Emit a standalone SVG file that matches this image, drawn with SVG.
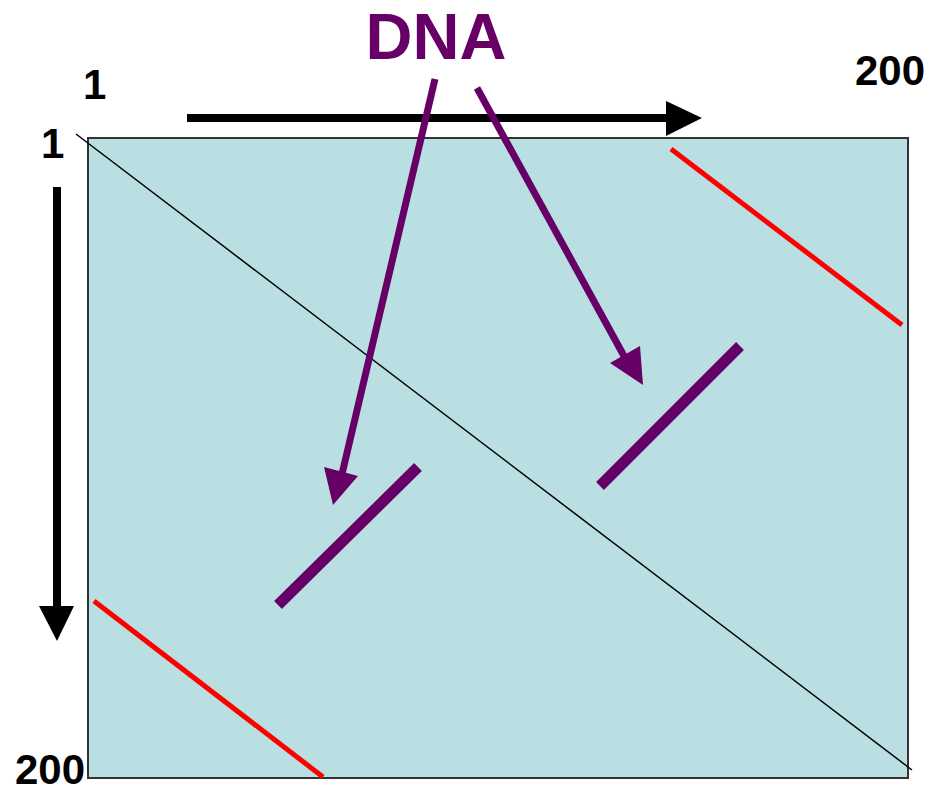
<svg xmlns="http://www.w3.org/2000/svg" width="931" height="793" viewBox="0 0 931 793">
<style>
.lbl{font-family:"Liberation Sans",Arial,sans-serif;font-weight:bold;font-size:42px;fill:#000}
.dna{font-family:"Liberation Sans",Arial,sans-serif;font-weight:bold;font-size:65px;fill:#660066}
.red{stroke:#ff0000;stroke-width:5;stroke-linecap:butt}
.seg{stroke:#660066;stroke-width:11;stroke-linecap:butt}
.pshaft{stroke:#660066;stroke-width:7}
.ahead{fill:#660066}
</style>
<rect width="931" height="793" fill="#ffffff"/>
<g id="matrix">
<rect x="88" y="138" width="820" height="640" fill="#badfe2" stroke="#333333" stroke-width="2"/>
<line x1="76" y1="134" x2="912" y2="770" stroke="#000" stroke-width="1.5"/>
<line class="red" x1="671" y1="149" x2="902" y2="325"/>
<line class="red" x1="94" y1="601" x2="323" y2="777"/>
<line class="seg" x1="278" y1="605" x2="418" y2="467"/>
<line class="seg" x1="600" y1="486" x2="740" y2="346"/>
</g>
<g id="labels">
<text class="dna" x="436" y="59" text-anchor="middle">DNA</text>
<text class="lbl" x="83" y="99">1</text>
<text class="lbl" x="41" y="158">1</text>
<text class="lbl" x="855" y="85">200</text>
<text class="lbl" x="15" y="784">200</text>
</g>
<g id="connectors">
<line x1="187" y1="118" x2="668" y2="118" stroke="#000" stroke-width="8"/>
<polygon points="666,101 702,118 666,136" fill="#000"/>
<line x1="57" y1="187" x2="57" y2="608" stroke="#000" stroke-width="8"/>
<polygon points="39,606 74,606 57,641" fill="#000"/>
<line class="pshaft" x1="435" y1="79" x2="342" y2="474"/>
<polygon class="ahead" points="324,467 358,476 333,505"/>
<line class="pshaft" x1="477" y1="88" x2="624" y2="356"/>
<polygon class="ahead" points="610,363 640,346 643,385"/>
</g>
</svg>
